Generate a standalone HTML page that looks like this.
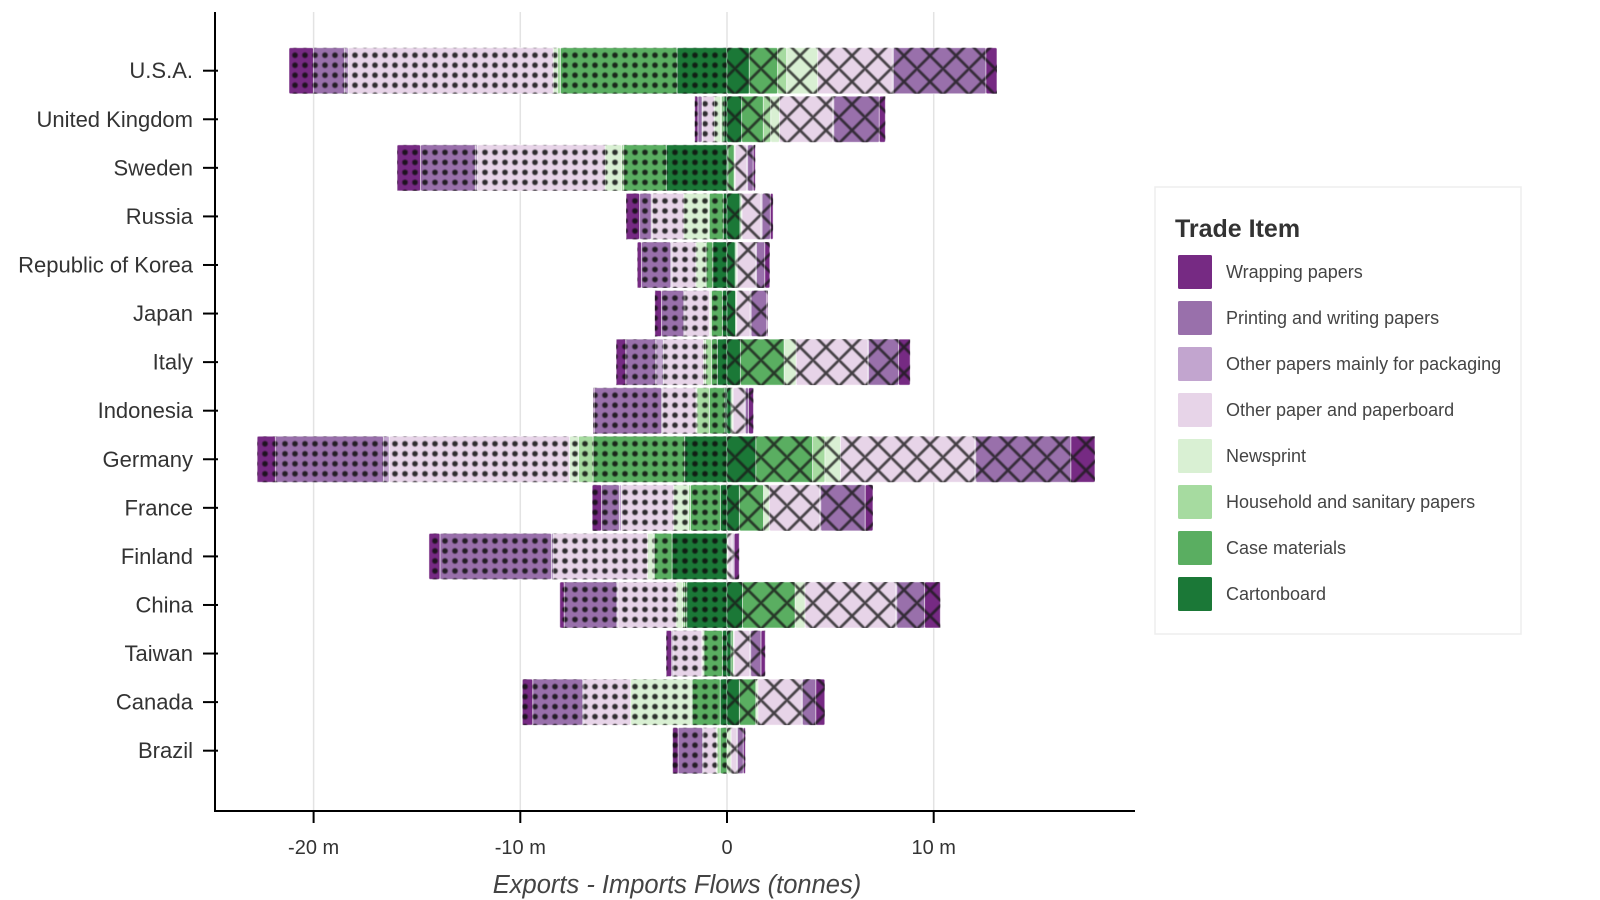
<!DOCTYPE html>
<html><head><meta charset="utf-8"><style>
body{margin:0;background:#fff;}
svg{display:block;font-family:"Liberation Sans",Arial,sans-serif;}
</style></head><body>
<svg id="chart" width="1600" height="900" viewBox="0 0 1600 900">
<defs id="defs">
<filter id="soft" x="-20%" y="-20%" width="140%" height="140%"><feGaussianBlur stdDeviation="0.6"/></filter>
</defs>
<g id="grid"></g>
<g id="bars"></g>
<g id="axes"></g>
<text x="677" y="893" font-size="25.5" font-style="italic" fill="#444" text-anchor="middle">Exports - Imports Flows (tonnes)</text>
<g>
<rect x="1155" y="187" width="366" height="447" fill="#fff" stroke="#eee" stroke-width="1.5"/>
<text x="1175" y="237" font-size="25" font-weight="bold" fill="#333">Trade Item</text>
<g id="legend-items"></g>
</g>
</svg>
<script>
const countries = ["U.S.A.","United Kingdom","Sweden","Russia","Republic of Korea","Japan","Italy","Indonesia","Germany","France","Finland","China","Taiwan","Canada","Brazil"];
const items = ["Cartonboard","Case materials","Household and sanitary papers","Newsprint","Other paper and paperboard","Other papers mainly for packaging","Printing and writing papers","Wrapping papers"];
const colors = ["#1b7837","#5aae61","#a6dba0","#d9f0d3","#e7d4e8","#c2a5cf","#9970ab","#762a83"];
const xTicks = [-20,-10,0,10];
const xTickLabels = ["-20 m","-10 m","0","10 m"];
// exports (plotted left), millions of tonnes
const expCartonboard = [2.42,0.15,2.94,0.18,0.69,0.22,0.47,0.1,2.05,0.32,2.66,1.95,0.22,0.33,0.0];
const expCase = [5.64,0.1,2.06,0.68,0.32,0.53,0.28,0.75,4.43,1.45,0.86,0.1,0.9,1.36,0.33];
const expHousehold = [0.15,0.05,0.1,0.05,0.05,0.05,0.29,0.61,0.71,0.1,0.05,0.1,0.05,0.05,0.15];
const expNewsprint = [0.2,0.32,0.8,1.18,0.45,0.05,0.1,0.05,0.43,0.71,0.28,0.32,0.05,2.92,0.05];
const expOtherPaper = [9.9,0.56,6.18,1.53,1.16,1.19,1.94,1.6,8.72,2.53,4.54,2.81,1.36,2.27,0.6];
const expOtherPack = [0.2,0.03,0.1,0.05,0.05,0.05,0.37,0.05,0.28,0.1,0.1,0.05,0.05,0.05,0.05];
const expPrinting = [1.5,0.2,2.65,0.56,1.42,1.08,1.45,3.26,5.23,0.86,5.4,2.55,0.05,2.42,1.19];
const expWrapping = [1.18,0.15,1.13,0.65,0.2,0.32,0.46,0.05,0.88,0.45,0.53,0.21,0.26,0.5,0.26];
// imports (plotted right)
const impCartonboard = [1.08,0.71,0.05,0.63,0.4,0.42,0.65,0.2,1.4,0.6,0.0,0.75,0.2,0.6,0.0];
const impCase = [1.37,1.05,0.3,0.05,0.05,0.0,2.12,0.05,2.74,1.17,0.0,2.55,0.1,0.8,0.0];
const impHousehold = [0.44,0.36,0.0,0.0,0.0,0.0,0.0,0.0,0.6,0.0,0.0,0.0,0.0,0.0,0.0];
const impNewsprint = [1.5,0.42,0.05,0.05,0.05,0.05,0.58,0.05,0.75,0.28,0.05,0.48,0.05,0.1,0.2];
const impOtherPaper = [3.61,2.58,0.55,0.92,0.88,0.65,3.45,0.54,6.5,2.44,0.2,4.39,0.75,2.1,0.26];
const impOtherPack = [0.05,0.05,0.05,0.05,0.05,0.05,0.05,0.05,0.05,0.05,0.05,0.05,0.05,0.05,0.05];
const impPrinting = [4.48,2.2,0.27,0.4,0.4,0.75,1.45,0.15,4.6,2.15,0.05,1.34,0.5,0.65,0.28];
const impWrapping = [0.53,0.29,0.1,0.13,0.24,0.05,0.56,0.24,1.16,0.37,0.24,0.76,0.2,0.43,0.1];

const expSeries = [expCartonboard,expCase,expHousehold,expNewsprint,expOtherPaper,expOtherPack,expPrinting,expWrapping];
const impSeries = [impCartonboard,impCase,impHousehold,impNewsprint,impOtherPaper,impOtherPack,impPrinting,impWrapping];

const NS="http://www.w3.org/2000/svg";
const X0=727, PX=20.67, AXL=215, AXR=1135, AXT=12, AXB=811;
const Y0=70.7, PITCH=48.57, BH=46;
const HS=26;
const xs=v=>X0+v*PX;
const ys=i=>Y0+i*PITCH;
function mk(tag,attrs,parent){const e=document.createElementNS(NS,tag);for(const k in attrs)e.setAttribute(k,attrs[k]);if(parent)parent.appendChild(e);return e;}
const defs=document.getElementById('defs');
const grid=document.getElementById('grid');
const bars=document.getElementById('bars');
const axes=document.getElementById('axes');

xTicks.forEach((t,i)=>{
  const l=mk('line',{x1:xs(t),x2:xs(t),y1:AXT,y2:AXB,stroke:'#e3e3e3','stroke-width':1.5},grid);
  
  
  const tk=mk('line',{x1:xs(t),x2:xs(t),y1:AXB,y2:AXB+12,stroke:'#000','stroke-width':2},axes);
  
  
  const tx=mk('text',{x:xs(t),y:854,'font-size':20,fill:'#333','text-anchor':'middle'},axes);
  tx.textContent=xTickLabels[i];
  
  
});
const la=mk('line',{x1:AXL,x2:AXL,y1:AXT,y2:AXB+1,stroke:'#000','stroke-width':2},axes);


const ba=mk('line',{x1:AXL-1,x2:AXR,y1:AXB,y2:AXB,stroke:'#000','stroke-width':2},axes);



countries.forEach((c,i)=>{
  const y=ys(i);
  const tk=mk('line',{x1:AXL-12,x2:AXL+3,y1:y,y2:y,stroke:'#000','stroke-width':2},axes);
  
  
  const tx=mk('text',{x:193,y:y+7.5,'font-size':22,fill:'#333','text-anchor':'end'},axes);
  tx.textContent=c;
  
  
  const top=y-BH/2;
  const pd=mk('pattern',{id:'dots'+i,patternUnits:'userSpaceOnUse',width:10,height:10,x:0,y:top+2.5},defs);
  mk('circle',{cx:5,cy:5,r:2.8,fill:'#111','fill-opacity':0.85,filter:'url(#soft)'},pd);
  const px=mk('pattern',{id:'hatch'+i,patternUnits:'userSpaceOnUse',width:HS,height:HS,x:X0+8,y:top-5},defs);
  mk('path',{d:'M-2,-2 L'+(HS+2)+','+(HS+2)+' M'+(HS+2)+',-2 L-2,'+(HS+2),stroke:'#1a1a1a','stroke-width':2.6,'stroke-opacity':0.8,fill:'none',filter:'url(#soft)'},px);
  let cum=0;
  expSeries.forEach((s,k)=>{
    const v=s[i]; if(!(v>0)) return;
    const x1=xs(-(cum+v)), w=v*PX; cum+=v;
    const r=mk('rect',{x:x1,y:top,width:w,height:BH,fill:colors[k],stroke:'#fff','stroke-opacity':0.5,'stroke-width':1,rx:1.5},bars);
    
    
    mk('rect',{x:x1,y:top,width:w,height:BH,fill:'url(#dots'+i+')'},bars);
  });
  cum=0;
  impSeries.forEach((s,k)=>{
    const v=s[i]; if(!(v>0)) return;
    const x1=xs(cum), w=v*PX; cum+=v;
    const r=mk('rect',{x:x1,y:top,width:w,height:BH,fill:colors[k],stroke:'#fff','stroke-opacity':0.5,'stroke-width':1,rx:1.5},bars);
    
    
    mk('rect',{x:x1,y:top,width:w,height:BH,fill:'url(#hatch'+i+')'},bars);
  });
});

const lg=document.getElementById('legend-items');
const legOrder=[7,6,5,4,3,2,1,0];
legOrder.forEach((k,j)=>{
  const y=255+j*46;
  const sw=mk('rect',{x:1178,y:y,width:34,height:34,fill:colors[k],rx:1.5},lg);
  
  
  const t=mk('text',{x:1226,y:y+23,'font-size':18,fill:'#444'},lg);
  t.textContent=items[k];
  
  
});
</script>
</body></html>
